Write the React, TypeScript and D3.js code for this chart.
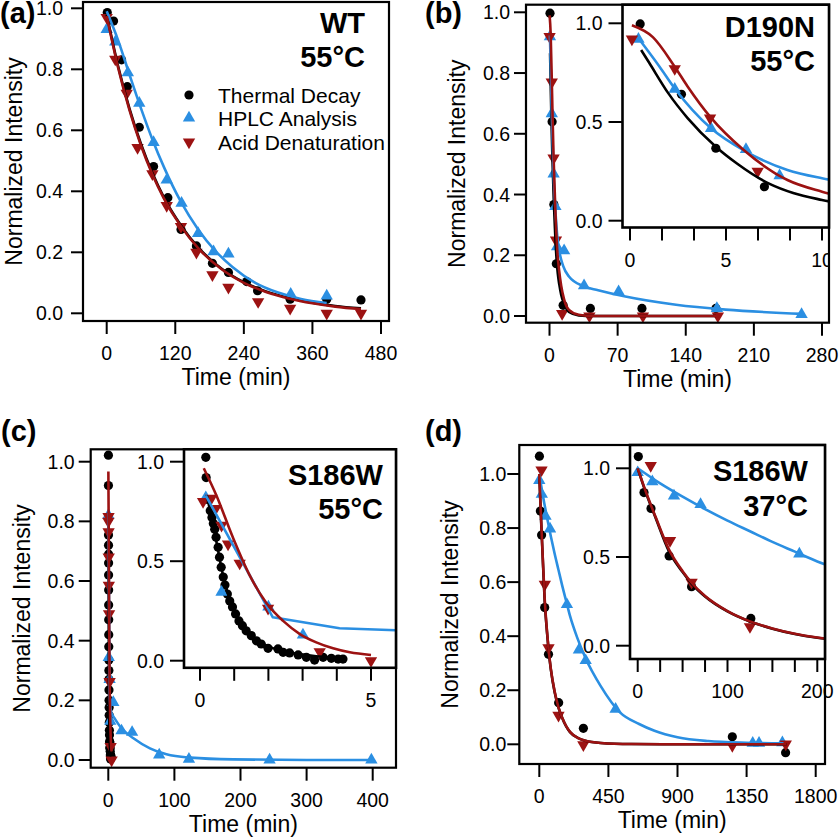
import React from "react";
import * as d3 from "d3";

type Pt = [number, number];

// ---------- Panel (a): WT 55°C ----------
const aThermal: Pt[] = [[1,0.986],[12,0.958],[26,0.831],[36,0.743],[57,0.61],[82,0.481],[107,0.379],[130,0.275],[157,0.221],[185,0.164],[213,0.134],[245,0.104],[264,0.074],[321,0.046],[385,0.046],[445,0.044]];
const aHplc: Pt[] = [[0,0.931],[15,0.89],[37,0.789],[57,0.689],[82,0.56],[105,0.437],[131,0.361],[160,0.262],[187,0.202],[213,0.195],[322,0.063],[385,0.057]];
const aAcid: Pt[] = [[0,0.97],[15,0.833],[35,0.721],[54,0.543],[80,0.457],[105,0.353],[130,0.284],[157,0.2],[185,0.126],[213,0.085],[265,0.038],[321,0.016],[385,0.0],[445,0.0]];
const aThermalFit: Pt[] = [[0,0.98],[20,0.81],[40,0.67],[60,0.555],[80,0.46],[100,0.38],[130,0.288],[160,0.216],[200,0.148],[240,0.102],[280,0.071],[320,0.05],[360,0.035],[400,0.024],[445,0.016]];
const aHplcFit: Pt[] = [[0,0.99],[20,0.895],[40,0.782],[60,0.672],[80,0.57],[100,0.48],[130,0.365],[160,0.275],[190,0.205],[220,0.152],[260,0.1],[300,0.068],[340,0.047],[385,0.034]];
const aAcidFit: Pt[] = [[0,0.975],[20,0.805],[40,0.665],[60,0.55],[80,0.455],[100,0.377],[130,0.285],[160,0.214],[200,0.146],[240,0.1],[280,0.069],[320,0.048],[360,0.033],[400,0.022],[445,0.014]];

// ---------- Panel (b): D190N 55°C ----------
const bThermal: Pt[] = [[0.53,0.997],[2.68,0.64],[4.47,0.367],[7.0,0.172],[14,0.035],[42,0.025],[95,0.025],[171,0.025]];
const bHplc: Pt[] = [[0.44,0.92],[2.33,0.666],[4.22,0.468],[6.04,0.361],[7.79,0.228],[15,0.215],[35.5,0.1],[71,0.08],[172,0.025],[259,0.005]];
const bAcid: Pt[] = [[0.1,0.92],[2.33,0.77],[4.17,0.52],[6.65,0.25],[13,0.008],[41,0],[96,0],[173,0]];
const bThermalFit: Pt[] = [[0.58,0.865],[1,0.8],[2,0.645],[3,0.52],[4.47,0.375],[5.57,0.29],[7.3,0.185],[8.5,0.14],[10,0.105],[12,0.07],[15,0.04],[20,0.013],[30,0.002],[45,0],[171,0]];
const bHplcFit: Pt[] = [[0.44,0.924],[1.54,0.78],[2.33,0.67],[4.22,0.468],[6.04,0.35],[8.2,0.257],[10,0.215],[14,0.165],[20,0.13],[35,0.098],[50,0.085],[78,0.064],[130,0.037],[181,0.021],[260,0.007]];
const bAcidFit: Pt[] = [[0.1,0.99],[1.19,0.93],[2.33,0.78],[3,0.68],[4.17,0.527],[5.92,0.358],[8.2,0.206],[10,0.147],[12,0.1],[15,0.055],[20,0.02],[30,0.004],[45,0],[174,0]];

// ---------- Panel (c): S186W 55°C ----------
const cThermal: Pt[] = [[0.17,1.022],[0.18,0.92],[0.23,0.81],[0.3,0.754],[0.35,0.72],[0.39,0.69],[0.43,0.66],[0.47,0.62],[0.53,0.57],[0.57,0.52],[0.62,0.47],[0.68,0.42],[0.73,0.38],[0.8,0.335],[0.87,0.3],[0.95,0.27],[1.04,0.235],[1.14,0.2],[1.24,0.176],[1.35,0.15],[1.5,0.126],[1.65,0.1],[1.79,0.084],[1.99,0.062],[2.28,0.059],[2.43,0.042],[2.62,0.039],[2.87,0.029],[3.11,0.017],[3.35,0.003],[3.6,0.017],[3.84,0.012],[4.04,0.008],[4.18,0.008]];
const cHplc: Pt[] = [[0.17,0.82],[0.63,0.344],[2.0,0.27],[3.01,0.13],[7.6,0.193],[20,0.098],[36,0.093],[77,0.017],[122,0.003],[244,0],[398,0]];
const cAcid: Pt[] = [[0.09,0.8],[0.33,0.816],[0.46,0.765],[0.63,0.68],[0.82,0.586],[1.16,0.49],[1.99,0.263],[3.5,0.045],[5.0,0.0]];
const cThermalFit: Pt[] = [[0.2,0.83],[0.3,0.75],[0.4,0.67],[0.5,0.58],[0.6,0.49],[0.7,0.41],[0.8,0.345],[0.95,0.275],[1.1,0.215],[1.3,0.165],[1.5,0.128],[1.75,0.095],[2.0,0.072],[2.4,0.05],[2.9,0.033],[3.4,0.022],[3.8,0.016],[4.18,0.012]];
const cHplcFit: Pt[] = [[0.17,0.83],[2.13,0.218],[4.08,0.163],[5.52,0.154],[10,0.138],[20,0.106],[38,0.073],[63,0.039],[88,0.019],[124,0.008],[189,0.002],[300,0],[398,0]];
const cAcidFit: Pt[] = [[0.11,0.967],[0.48,0.83],[0.96,0.62],[1.45,0.43],[1.94,0.29],[2.43,0.2],[2.92,0.134],[3.4,0.092],[3.89,0.062],[4.38,0.042],[5.0,0.029]];

// ---------- Panel (d): S186W 37°C ----------
const dThermal: Pt[] = [[0.7,1.066],[7,0.863],[14.8,0.774],[35,0.506],[60,0.333],[126,0.154],[287,0.059],[1257,0.028],[1604,-0.031]];
const dHplc: Pt[] = [[0,0.976],[16.3,0.925],[40.4,0.844],[70,0.797],[180,0.517],[258,0.349],[302,0.31],[497,0.13],[1390,0.004],[1431,0.004],[1583,0.006]];
const dAcid: Pt[] = [[14.5,1.015],[36,0.592],[60,0.357],[125,0.107],[287,-0.002],[1257,-0.005],[1605,0.001]];
const dThermalFit: Pt[] = [[0,1.0],[10,0.85],[20,0.72],[35,0.53],[50,0.415],[60,0.35],[75,0.277],[100,0.193],[125,0.136],[150,0.096],[175,0.066],[200,0.045],[250,0.024],[300,0.013],[400,0.005],[600,0.001],[900,0],[1610,0]];
const dHplcFit: Pt[] = [[0,1.0],[25,0.915],[50,0.84],[75,0.77],[100,0.705],[125,0.645],[150,0.585],[175,0.53],[200,0.475],[250,0.39],[300,0.32],[400,0.215],[525,0.118],[650,0.075],[750,0.05],[900,0.026],[1100,0.012],[1350,0.006],[1590,0.004]];
const dAcidFit: Pt[] = [[0,1.0],[10,0.855],[20,0.725],[35,0.54],[50,0.42],[60,0.355],[75,0.28],[100,0.195],[125,0.137],[150,0.097],[175,0.067],[200,0.046],[250,0.024],[300,0.013],[400,0.005],[600,0.001],[900,0],[1610,0]];

// ---------- labels & ticks ----------
const seriesNames = ["Thermal Decay", "HPLC Analysis", "Acid Denaturation"];
const seriesColors = ["#000000", "#2b8fe2", "#9c1212"];
const seriesShapes = ["circle", "up", "down"];
const yTitle = "Normalized Intensity";
const xTitle = "Time (min)";
const yTicksMain = [0, 0.2, 0.4, 0.6, 0.8, 1.0];
const yTicksInset = [0, 0.5, 1.0];
const aXTicks = [0, 120, 240, 360, 480];
const bXTicks = [0, 70, 140, 210, 280];
const cXTicks = [0, 100, 200, 300, 400];
const dXTicks = [0, 450, 900, 1350, 1800];
const bInsetXLabels = [0, 5, 10];
const bInsetXMinor = [0, 1.667, 3.333, 5, 6.667, 8.333, 10];
const cInsetXLabels = [0, 5];
const cInsetXMinor = [0, 1, 2, 3, 4, 5];
const dInsetXLabels = [0, 100, 200];
const dInsetXMinor = [0, 25, 50, 75, 100, 125, 150, 175, 200];

const FONT = "'Liberation Sans', Arial, Helvetica, sans-serif";

type Frame = { x0: number; y0: number; x1: number; y1: number };
type BoxCfg = {
  id: string;
  frame: Frame;
  xDomain: [number, number];
  xRange: [number, number];
  yRange: [number, number];
  xLabels: number[];
  xMinor: number[];
  yTicks: number[];
  yLabelGap: number;
  yTickLen: number;
  xTickLen: number;
  inset: boolean;
  linearBlue?: boolean;
  labelClipX?: number;
};
type PanelCfg = {
  key: string;
  letter: string;
  letterX: number;
  letterY: number;
  main: BoxCfg;
  inset?: BoxCfg;
  data: Pt[][];
  fits: Pt[][];
  note: string[];
  noteX: number;
  noteY: number[];
  legend?: { mx: number; tx: number; ys: number[] };
};

function Marker({ shape, x, y, color }: { shape: string; x: number; y: number; color: string }) {
  if (shape === "circle") return <circle cx={x} cy={y} r={4.6} fill={color} />;
  const p = d3.symbol().type(d3.symbolTriangle).size(66)() as string;
  return (
    <path d={p} fill={color} transform={`translate(${x},${y})${shape === "down" ? " rotate(180)" : ""}`} />
  );
}

function Box({ cfg, panel }: { cfg: BoxCfg; panel: PanelCfg }) {
  const xs = d3.scaleLinear().domain(cfg.xDomain).range(cfg.xRange);
  const ys = d3.scaleLinear().domain([0, 1]).range(cfg.yRange);
  const f = cfg.frame;
  const fmtY = d3.format(".1f");
  const mk = (i: number) => {
    const curve = cfg.linearBlue && i === 1 ? d3.curveLinear : d3.curveMonotoneX;
    return d3.line<Pt>().x((d) => xs(d[0])).y((d) => ys(d[1])).curve(curve);
  };
  const labelClip = cfg.labelClipX !== undefined ? `url(#${cfg.id}-lab)` : undefined;
  return (
    <g>
      <defs>
        <clipPath id={cfg.id}>
          <rect x={f.x0} y={f.y0} width={f.x1 - f.x0} height={f.y1 - f.y0} />
        </clipPath>
        {cfg.labelClipX !== undefined && (
          <clipPath id={`${cfg.id}-lab`}>
            <rect x={0} y={0} width={cfg.labelClipX} height={840} />
          </clipPath>
        )}
      </defs>
      {cfg.inset && <rect x={f.x0} y={f.y0} width={f.x1 - f.x0} height={f.y1 - f.y0} fill="#fff" />}
      <g clipPath={`url(#${cfg.id})`}>
        {panel.data.map((ser, i) =>
          ser.map((d, j) => (
            <Marker key={`m${i}-${j}`} shape={seriesShapes[i]} x={xs(d[0])} y={ys(d[1])} color={seriesColors[i]} />
          ))
        )}
        {panel.fits.map((ser, i) => (
          <path key={`f${i}`} d={mk(i)(ser) as string} fill="none" stroke={seriesColors[i]} strokeWidth={2.6} strokeLinejoin="round" />
        ))}
      </g>
      <rect x={f.x0} y={f.y0} width={f.x1 - f.x0} height={f.y1 - f.y0} fill="none" stroke="#000" strokeWidth={cfg.inset ? 2.6 : 2.2} />
      {cfg.yTicks.map((t) => (
        <g key={`y${t}`}>
          <line x1={f.x0 - cfg.yTickLen} x2={f.x0} y1={ys(t)} y2={ys(t)} stroke="#000" strokeWidth={2} />
          <text x={f.x0 - cfg.yLabelGap} y={ys(t)} dy="0.36em" textAnchor="end" fontSize={19.5} fontFamily={FONT}>
            {fmtY(t)}
          </text>
        </g>
      ))}
      {cfg.xMinor.map((t) => (
        <line key={`xm${t}`} x1={xs(t)} x2={xs(t)} y1={f.y1} y2={f.y1 + cfg.xTickLen} stroke="#000" strokeWidth={2} />
      ))}
      <g clipPath={labelClip}>
        {cfg.xLabels.map((t) => (
          <text key={`xl${t}`} x={xs(t)} y={f.y1 + 39} textAnchor="middle" fontSize={19.5} fontFamily={FONT}>
            {t}
          </text>
        ))}
      </g>
    </g>
  );
}

function Panel({ p }: { p: PanelCfg }) {
  const f = p.main.frame;
  const cx = (f.x0 + f.x1) / 2;
  const cy = (f.y0 + f.y1) / 2;
  return (
    <g>
      <Box cfg={p.main} panel={p} />
      <text x={f.x0 - 61} y={cy} transform={`rotate(-90 ${f.x0 - 61} ${cy})`} textAnchor="middle" fontSize={23} fontFamily={FONT}>
        {yTitle}
      </text>
      <text x={cx} y={f.y1 + 64} textAnchor="middle" fontSize={23} fontFamily={FONT}>
        {xTitle}
      </text>
      {p.inset && <Box cfg={p.inset} panel={p} />}
      {p.note.map((s, i) => (
        <text key={s} x={p.noteX} y={p.noteY[i]} textAnchor="end" fontSize={29} fontWeight="bold" fontFamily={FONT}>
          {s}
        </text>
      ))}
      {p.legend &&
        seriesNames.map((n, i) => (
          <g key={n}>
            <Marker shape={seriesShapes[i]} x={p.legend!.mx} y={p.legend!.ys[i]} color={seriesColors[i]} />
            <text x={p.legend!.tx} y={p.legend!.ys[i] + 7.5} fontSize={21} fontFamily={FONT}>
              {n}
            </text>
          </g>
        ))}
      <text x={p.letterX} y={p.letterY} fontSize={29} fontWeight="bold" fontFamily={FONT}>
        {p.letter}
      </text>
    </g>
  );
}

const mainBase = { yTicks: yTicksMain, yTickLen: 12, xTickLen: 13, inset: false };
const insetBase = { yTicks: yTicksInset, yLabelGap: 20, yTickLen: 14, xTickLen: 13, inset: true };

const panels: PanelCfg[] = [
  {
    key: "a", letter: "(a)", letterX: 0, letterY: 23,
    main: { ...mainBase, id: "ca", frame: { x0: 83, y0: 2, x1: 389, y1: 321 }, xDomain: [0, 480], xRange: [106.7, 381], yRange: [313.3, 8.3], xLabels: aXTicks, xMinor: aXTicks, yLabelGap: 20 },
    data: [aThermal, aHplc, aAcid], fits: [aThermalFit, aHplcFit, aAcidFit],
    note: ["WT", "55°C"], noteX: 365, noteY: [33, 67],
    legend: { mx: 189, tx: 218, ys: [95, 118, 142] },
  },
  {
    key: "b", letter: "(b)", letterX: 425, letterY: 23,
    main: { ...mainBase, id: "cb", frame: { x0: 526, y0: 4.7, x1: 829, y1: 322.7 }, xDomain: [0, 280], xRange: [549.5, 822], yRange: [316, 12.3], xLabels: bXTicks, xMinor: bXTicks, yLabelGap: 16 },
    inset: { ...insetBase, id: "cbi", frame: { x0: 622.5, y0: 4.7, x1: 829, y1: 227.5 }, xDomain: [0, 10], xRange: [630, 822], yRange: [220.7, 23.3], xLabels: bInsetXLabels, xMinor: bInsetXMinor, labelClipX: 829 },
    data: [bThermal, bHplc, bAcid], fits: [bThermalFit, bHplcFit, bAcidFit],
    note: ["D190N", "55°C"], noteX: 815, noteY: [37, 71],
  },
  {
    key: "c", letter: "(c)", letterX: 1, letterY: 441,
    main: { ...mainBase, id: "cc", frame: { x0: 90.7, y0: 449.3, x1: 396, y1: 767.7 }, xDomain: [0, 400], xRange: [108.3, 372.7], yRange: [760, 461.7], xLabels: cXTicks, xMinor: cXTicks, yLabelGap: 16 },
    inset: { ...insetBase, id: "cci", frame: { x0: 184, y0: 449.3, x1: 396, y1: 667.8 }, xDomain: [0, 5], xRange: [200, 371], yRange: [660.7, 461.7], xLabels: cInsetXLabels, xMinor: cInsetXMinor, linearBlue: true },
    data: [cThermal, cHplc, cAcid], fits: [cThermalFit, cHplcFit, cAcidFit],
    note: ["S186W", "55°C"], noteX: 383, noteY: [485, 519],
  },
  {
    key: "d", letter: "(d)", letterX: 425, letterY: 441,
    main: { ...mainBase, id: "cd", frame: { x0: 519.3, y0: 445, x1: 825, y1: 764 }, xDomain: [0, 1800], xRange: [539.3, 815.7], yRange: [744.3, 474], xLabels: dXTicks, xMinor: dXTicks, yLabelGap: 13 },
    inset: { ...insetBase, id: "cdi", frame: { x0: 630, y0: 445, x1: 825, y1: 659 }, xDomain: [0, 200], xRange: [637.7, 817.3], yRange: [645.7, 468.3], xLabels: dInsetXLabels, xMinor: dInsetXMinor },
    data: [dThermal, dHplc, dAcid], fits: [dThermalFit, dHplcFit, dAcidFit],
    note: ["S186W", "37°C"], noteX: 808, noteY: [481, 516],
  },
];

export default function App() {
  return (
    <svg width={840} height={840} viewBox="0 0 840 840" style={{ position: "absolute", left: 0, top: 0, background: "#fff" }}>
      <rect x={0} y={0} width={840} height={840} fill="#fff" />
      {panels.map((p) => (
        <Panel key={p.key} p={p} />
      ))}
    </svg>
  );
}
